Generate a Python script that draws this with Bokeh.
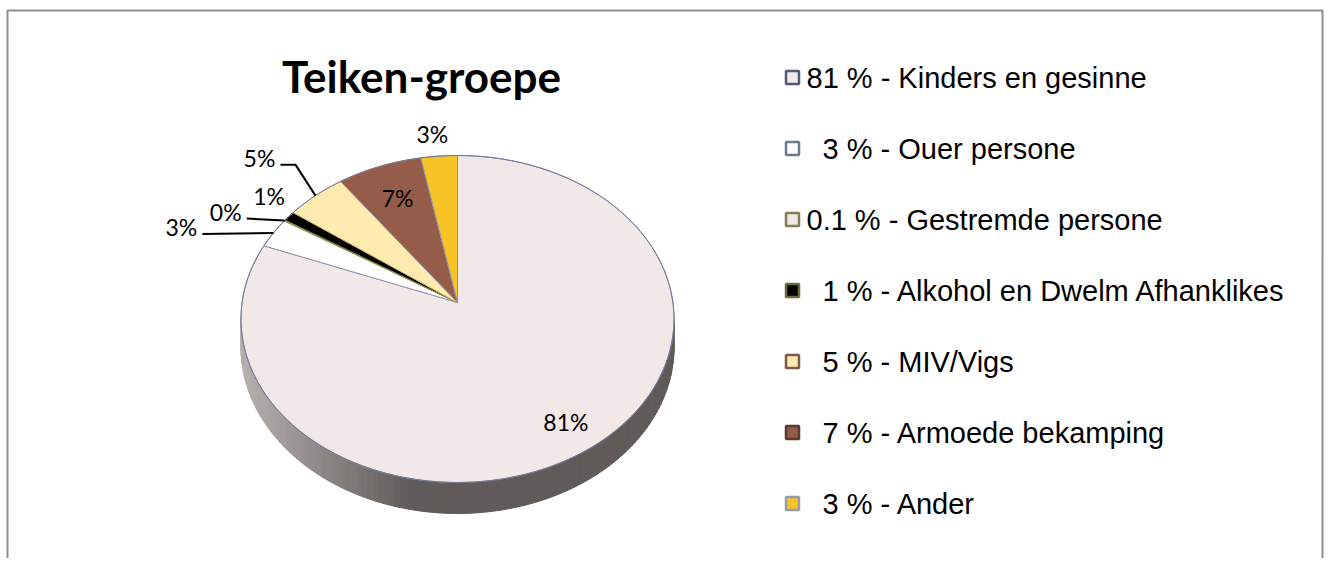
import numpy as np
from bokeh.plotting import figure
from bokeh.models import Range1d
from bokeh.core.properties import value
from bokeh.embed import file_html
from bokeh.resources import INLINE

# ---------------- data ----------------
title_text = "Teiken-groepe"
categories = ["Kinders en gesinne", "Ouer persone", "Gestremde persone",
              "Alkohol en Dwelm Afhanklikes", "MIV/Vigs", "Armoede bekamping", "Ander"]
values = [81, 3, 0.1, 1, 5, 7, 3]

# ---------------- styles ----------------
slice_colors = ["#F3E8E8", "#FFFFFF", "#F3E8E8", "#000000", "#FFEBB0", "#955C49", "#F8C326"]
slice_lines = ["#8E94AC", "#8E94AC", "#8A8A40", "#8A8A40", "#C9B27A", "#8E94AC", "#8E94AC"]
marker_lines = ["#4F5A78", "#6B7B8E", "#7F8150", "#6B6B3A", "#7B5A48", "#5A3A30", "#9A9AA8"]

# label layout per slice: ("in", r) or ("out", dx, dy, leader, elbow) or ("rad", r)
label_layout = [("in", 0.83), ("out", -92, -6, True, 0), ("out", -59, -9, True, 0),
                ("out", -20, -20, False, 0), ("out", -56, -38, True, 15), ("in", 0.75),
                ("rad", 1.17)]

# geometry of the projected (perspective) disc, screen px
CX, CY, SX, SY, E = 457.0, 302.0, 215.4, 161.8, 0.1009
H = 27.9

def proj(theta, r=1.0):
    u = r * np.sin(theta)
    v = -r * np.cos(theta)
    w = 1 - E * v
    return CX + SX * u / w, CY + SY * v / w

def depth(theta):
    v = -np.cos(theta)
    return H / (1 - E * v)

W, HT = 1325, 558
p = figure(width=W, height=HT, output_backend="svg", toolbar_location=None,
           x_range=Range1d(0, W), y_range=Range1d(HT, 0), min_border=0,
           background_fill_color="white", border_fill_color="white")
p.axis.visible = False
p.grid.visible = False
p.outline_line_color = None

# chart border
p.quad(left=[7], right=[1322], top=[10], bottom=[700], fill_color=None,
       line_color="#8E8E8E", line_width=2)

# ---------------- side of pie ----------------
th_left = np.pi + np.arccos(E)          # leftmost silhouette point
th_right = np.pi - np.arccos(E)         # rightmost silhouette point
N = 120
ths = np.linspace(th_right, th_left, N + 1)
light = np.array([0xB4, 0xAE, 0xAC])
dark = np.array([0x60, 0x5B, 0x58])
xs_side, ys_side, cols_side = [], [], []
for i in range(N):
    a, b = ths[i], ths[i + 1]
    xa, ya = proj(a)
    xb, yb = proj(b)
    xm, _ = proj((a + b) / 2)
    t = np.clip((xm - 245) / (410 - 245), 0, 1)
    c = light + (dark - light) * t
    col = "#%02x%02x%02x" % tuple(int(round(k)) for k in c)
    xs_side.append([xa, xb, xb, xa])
    ys_side.append([ya, yb, yb + depth(b), ya + depth(a)])
    cols_side.append(col)
p.patches(xs_side, ys_side, fill_color=cols_side, line_color=cols_side, line_width=1)

# ---------------- top slices ----------------
total = sum(values)
fr = np.cumsum([0] + values) / total
xs_top, ys_top = [], []
for i in range(len(values)):
    a, b = 2 * np.pi * fr[i], 2 * np.pi * fr[i + 1]
    n = max(3, int((b - a) / (2 * np.pi) * 360))
    tt = np.linspace(a, b, n + 1)
    px, py = proj(tt)
    xs_top.append([CX] + list(px))
    ys_top.append([CY] + list(py))
p.patches(xs_top, ys_top, fill_color=slice_colors, line_color=slice_lines,
          line_width=1)
# outer rim
tt = np.linspace(0, 2 * np.pi, 361)
rx, ry = proj(tt)
p.line(rx, ry, line_color="#6E7594", line_width=1)

# ---------------- data labels ----------------
lab_x, lab_y, lab_t = [], [], []
for i, v in enumerate(values):
    mid = 2 * np.pi * (fr[i] + fr[i + 1]) / 2
    lay = label_layout[i]
    txt = f"{v:.0f}%"
    if lay[0] == "in" or lay[0] == "rad":
        x, y = proj(mid, lay[1])
        if lay[0] == "rad":
            x -= 4
    else:
        ax, ay = proj(mid)
        x, y = ax + lay[1], ay + lay[2]
        if lay[3]:
            sx, sy = x + 21, y + 7
            lx, ly = [sx], [sy]
            if lay[4]:
                lx.append(sx + lay[4]); ly.append(sy)
            lx.append(ax); ly.append(ay)
            p.line(lx, ly, line_color="black", line_width=2)
    lab_x.append(x); lab_y.append(y); lab_t.append(txt)
p.text(lab_x, lab_y, text=lab_t, text_font=value("Lato"), text_font_size="23px",
       text_align="center", text_baseline="middle", text_color="black")

# ---------------- title ----------------
p.text([421], [75], text=[title_text], text_font=value("Lato"), text_font_size="44px",
       text_font_style="bold", text_align="center", text_baseline="alphabetic",
       text_color="black")

# ---------------- legend ----------------
row0, step = 77, 71
ly = [row0 + step * i for i in range(len(categories))]
p.rect([792] * len(categories), ly, width=13, height=13, fill_color=slice_colors,
       line_color=marker_lines, line_width=2.5)
leg_x, leg_t = [], []
for i, (c, v) in enumerate(zip(categories, values)):
    num = f"{v:g}"
    leg_t.append(f"{num} % - {c}")
    leg_x.append(806 if len(num) > 1 else 822)
p.text(leg_x, ly, text=leg_t, text_font=value("Liberation Sans"), text_font_size="29px",
       text_align="left", text_baseline="middle", text_color="black")

open("out.html", "w").write(file_html(p, INLINE))
